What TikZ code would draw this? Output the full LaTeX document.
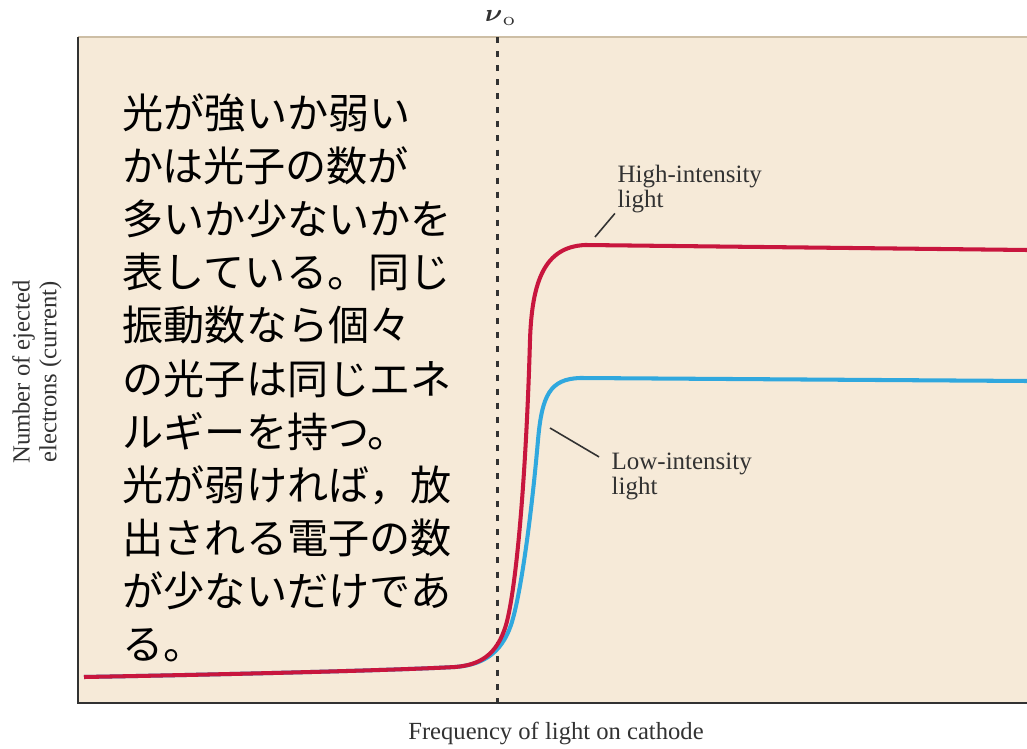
\documentclass[tikz,border=0pt]{standalone}
\usepackage{fontspec}
\usepackage{amsmath, amssymb}
\newfontfamily\jpfont{Noto Sans CJK JP}
\newfontfamily\lblfont{Liberation Serif}
\usetikzlibrary{positioning}
\definecolor{panel}{RGB}{246,234,216}
\definecolor{panelrim}{RGB}{205,190,165}
\definecolor{hiline}{RGB}{200,22,62}
\definecolor{loline}{RGB}{48,168,222}
\definecolor{inkgray}{RGB}{50,50,50}
\tikzset{x=0.01cm, y=-0.01cm,
plotcurve/.style={ % Sets the look of both current curves
line width=1.15pt,
line join=round},
threshold/.style={ % Dashed line at the threshold frequency
draw=inkgray,
line width=0.85pt,
dash pattern=on 1.7pt off 2.3pt},
frame/.style={draw=inkgray, line width=0.85pt},
pointer/.style={draw=inkgray, line width=0.45pt},
lbl/.style={ % Labels on the curves
text=inkgray,
inner sep=0pt,
align=left,
font=\lblfont\fontsize{7.1}{7.2}\selectfont},
axislbl/.style={
text=inkgray,
inner sep=0pt,
align=center,
font=\lblfont\fontsize{7}{7.6}\selectfont},
jpnote/.style={ % Japanese explanation
inner sep=0pt,
align=left,
font=\jpfont\fontsize{11.7}{15.1}\selectfont}}
\begin{document}
\begin{tikzpicture}
\useasboundingbox (0,0) rectangle (1027,749);
\fill[panel] (78,37) rectangle (1027,703);
\draw[panelrim, line width=0.5pt] (78,37) -- (1027,37);
\draw[frame] (78,37) -- (78,703) -- (1027,703);
\coordinate (nutop) at (497,37);
\coordinate (nubot) at (497,703);
\draw[threshold] (nutop) -- (nubot);
\draw[plotcurve, loline] (84,677) .. controls (250,674) and (400,670) .. (455,667)
.. controls (482,665) and (501,654) .. (511,625)
.. controls (521,595) and (532,510) .. (538,440)
.. controls (542,395) and (550,379) .. (580,378) -- (1027,381);
\draw[plotcurve, hiline] (84,677) .. controls (250,674) and (400,670) .. (455,667)
.. controls (480,665) and (497,655) .. (506,625)
.. controls (516,590) and (526,480) .. (530,340)
.. controls (532,280) and (545,247) .. (585,245) -- (1027,250);
\node[font=\fontsize{7.5}{8}\selectfont, text=inkgray] (nu) at (501,18) {$\boldsymbol{\nu}_{\mathrm{o}}$};
\node[lbl, anchor=north west] (high) at (617,164) {High-intensity\\light};
\node[lbl, anchor=north west] (low) at (611,452) {Low-intensity\\light};
\coordinate (hightip) at (595,237);
\coordinate (lowtip) at (550,428);
\draw[pointer] (hightip) -- ([xshift=-0.6pt]high.south west);
\draw[pointer] (lowtip) -- ([xshift=-3.4pt,yshift=-1.4pt]low.north west);
\node[axislbl, rotate=90] (ylab) at (37,372) {Number of ejected\\electrons (current)};
\node[axislbl] (xlab) at (556,733) {Frequency of light on cathode};
\node[jpnote, anchor=north west] (note) at (122,93) {光が強いか弱い\\かは光子の数が\\多いか少ないかを\\表している。同じ\\振動数なら個々\\の光子は同じエネ\\ルギーを持つ。\\光が弱ければ，放\\出される電子の数\\が少ないだけであ\\る。};
\end{tikzpicture}
\end{document}
